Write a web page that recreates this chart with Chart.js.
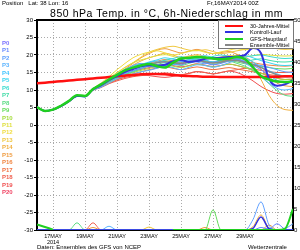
<!DOCTYPE html>
<html>
<head>
<meta charset="utf-8">
<script src="https://cdn.jsdelivr.net/npm/chart.js@4.4.0/dist/chart.umd.min.js"></script>
<style>
  body { margin: 0; background: #fff; }
  #wrap { position: relative; width: 300px; height: 250px; overflow: hidden; font-family: "Liberation Sans", Arial, sans-serif; }
  #wrap canvas { position: absolute; left: 0; top: 0; }
  .txt { position: absolute; white-space: nowrap; color: #000; line-height: 1; }
  #legendBox { position: absolute; left: 218px; top: 20px; width: 74px; height: 27px; background: #fff; border: 1px solid #777; }
  .legRow { position: absolute; left: 0; height: 6px; width: 74px; }
  .legLine { position: absolute; left: 6px; width: 18px; top: 2px; height: 2px; }
  .legText { position: absolute; left: 31px; top: 0; font-size: 5.5px; line-height: 6px; }
</style>
</head>
<body>
<div id="wrap">
  <canvas id="ensChart" width="300" height="250"></canvas>
  <div class="txt" style="left:2px;top:0px;font-size:6px;">Position&nbsp;&nbsp; Lat: 38 Lon: 16</div>
  <div class="txt" style="left:207px;top:0px;font-size:6px;">Fr,16MAY2014 00Z</div>
  <div class="txt" style="left:50px;top:8px;font-size:10.5px;letter-spacing:0.55px;">850 hPa Temp. in °C, 6h-Niederschlag in mm</div>
  <div class="txt" style="left:37px;top:244px;font-size:6px;">Daten: Ensembles des GFS von NCEP</div>
  <div class="txt" style="left:248px;top:244px;font-size:6px;">Wetterzentrale</div>
  <div id="legendBox"></div>
  <div id="sideLabels"></div>
</div>
<script>
// time axis: hours after 16MAY2014 00Z, 12-hourly
const hours = [0, 12, 24, 36, 48, 60, 72, 84, 96, 108, 120, 132, 144, 156, 168, 180, 192,
               204, 216, 228, 240, 252, 264, 276, 288, 300, 312, 324, 336, 348, 360, 372, 384];
const xTickHours = [24, 72, 120, 168, 216, 264, 312, 360];
const xTickLabels = ['17MAY', '19MAY', '21MAY', '23MAY', '25MAY', '27MAY', '29MAY', ''];
const yearLabel = '2014';

// 850 hPa temperature (°C)
const gfsTemp = [5.1, 4.0, 4.4, 5.5, 6.9, 8.5, 8.3, 10.3, 11.6, 13.0, 14.3, 15.6, 16.4, 17.0, 17.4, 16.8, 16.4,
                 17.8, 19.0, 19.2, 19.4, 19.3, 19.0, 18.8, 19.0, 19.4, 18.8, 16.5, 14.0, 13.0, 12.4, 12.3, 12.4];
const controlTemp = [5.1, 4.0, 4.4, 5.4, 6.8, 8.3, 8.2, 10.2, 11.4, 12.8, 14.0, 15.2, 16.0, 16.8, 17.1, 17.0, 17.2,
                     18.2, 18.6, 18.0, 18.3, 18.9, 19.1, 19.2, 19.4, 19.6, 20.0, 22.0, 20.5, 13.2, 11.2, 11.6, 12.8];
const climateTemp = [11.9, 12.1, 12.3, 12.5, 12.7, 12.9, 13.1, 13.3, 13.5, 13.7, 13.9, 14.1, 14.3, 14.5, 14.6, 14.6, 14.5,
                     14.3, 14.1, 14.0, 13.9, 13.8, 13.8, 13.7, 13.7, 13.7, 13.7, 13.7, 13.7, 13.8, 13.8, 13.9, 13.9];
const meanTemp = [5.1, 4.0, 4.4, 5.4, 6.8, 8.3, 8.2, 10.1, 11.3, 12.7, 14.0, 15.1, 16.1, 16.9, 17.4, 17.8, 18.1,
                  17.8, 17.6, 18.0, 18.4, 18.1, 17.7, 18.0, 18.5, 18.4, 17.9, 17.3, 16.4, 15.3, 14.3, 13.8, 13.9];

const p1 = [5.1, 4.0, 4.5, 5.4, 6.7, 8.2, 8.3, 10.0, 11.0, 12.6, 13.8, 14.8, 15.6, 16.2, 16.8, 16.5, 17.0, 17.6, 17.2, 18.0, 18.4, 17.8, 17.2, 17.6, 18.3, 18.8, 18.0, 17.0, 15.8, 14.2, 12.8, 12.0, 12.2];
const p2 = [5.0, 4.1, 4.4, 5.5, 6.9, 8.4, 8.1, 10.3, 11.8, 13.2, 14.5, 15.8, 17.0, 17.6, 17.2, 16.4, 16.8, 17.4, 18.1, 18.6, 18.0, 17.5, 17.9, 18.6, 19.2, 19.0, 18.2, 17.4, 17.0, 16.5, 15.8, 15.2, 15.0];
const p3 = [5.2, 4.0, 4.3, 5.3, 6.7, 8.2, 8.0, 9.9, 10.8, 12.0, 13.2, 14.0, 14.6, 15.2, 15.6, 16.2, 16.8, 16.4, 15.8, 16.5, 17.2, 17.0, 16.5, 17.0, 17.8, 18.4, 17.6, 16.2, 14.0, 12.0, 10.5, 10.0, 10.4];
const p4 = [5.1, 4.0, 4.4, 5.4, 6.8, 8.3, 8.3, 10.4, 11.6, 12.8, 14.2, 15.5, 16.2, 17.1, 17.8, 18.3, 17.9, 17.2, 17.6, 18.4, 18.9, 18.6, 18.0, 18.5, 19.3, 19.6, 19.1, 18.0, 16.6, 15.5, 14.6, 14.0, 14.1];
const p5 = [5.1, 4.1, 4.4, 5.5, 6.8, 8.4, 8.2, 10.2, 11.4, 12.7, 13.9, 15.1, 16.5, 17.3, 18.0, 18.6, 19.2, 18.8, 18.2, 18.7, 19.4, 19.8, 19.2, 18.6, 19.0, 19.5, 19.8, 19.2, 18.4, 17.8, 17.2, 17.0, 17.1];
const p6 = [5.0, 4.0, 4.5, 5.4, 6.9, 8.3, 8.2, 10.1, 11.2, 12.4, 13.6, 14.6, 15.4, 16.3, 17.2, 17.9, 18.5, 19.0, 19.5, 19.1, 18.6, 19.0, 19.6, 20.0, 19.6, 19.0, 19.4, 19.8, 20.0, 19.6, 19.2, 19.0, 19.1];
const p7 = [5.1, 4.0, 4.4, 5.4, 6.8, 8.2, 8.1, 10.2, 11.5, 13.0, 14.6, 15.9, 16.8, 17.4, 17.0, 16.6, 17.3, 18.0, 18.8, 19.3, 19.0, 18.4, 18.0, 18.5, 19.1, 18.7, 18.2, 18.6, 18.9, 18.5, 18.1, 18.0, 18.2];
const p8 = [5.1, 4.0, 4.4, 5.5, 6.9, 8.4, 8.2, 10.1, 11.2, 12.5, 13.5, 14.4, 15.2, 16.0, 16.8, 17.3, 17.8, 17.4, 17.0, 17.6, 18.2, 17.8, 17.3, 17.8, 18.2, 17.6, 16.8, 15.6, 13.8, 11.8, 9.8, 8.5, 8.2];
const p9 = [5.1, 4.1, 4.4, 5.4, 6.8, 8.3, 8.3, 10.3, 11.7, 13.1, 14.3, 15.2, 16.0, 16.7, 17.4, 17.8, 18.3, 18.0, 17.6, 18.1, 18.5, 18.1, 17.7, 18.0, 18.4, 18.0, 17.5, 17.1, 16.8, 16.4, 16.1, 16.0, 16.2];
const p10 = [5.1, 4.0, 4.4, 5.4, 6.8, 8.3, 8.2, 10.0, 11.0, 12.2, 13.3, 14.2, 15.0, 15.6, 16.2, 16.7, 17.1, 16.8, 16.4, 16.9, 17.4, 17.0, 16.6, 17.0, 17.4, 17.0, 16.4, 15.6, 14.8, 14.0, 13.3, 13.0, 13.1];
const p11 = [5.1, 4.0, 4.4, 5.5, 6.9, 8.4, 8.3, 10.3, 11.8, 13.4, 15.0, 16.5, 17.8, 18.6, 19.2, 19.8, 20.1, 19.6, 19.0, 19.4, 19.8, 19.3, 18.9, 19.3, 19.7, 19.9, 19.6, 19.8, 20.2, 20.0, 19.8, 19.7, 19.8];
const p12 = [5.1, 4.0, 4.4, 5.4, 6.8, 8.3, 8.2, 10.4, 12.0, 13.8, 15.8, 17.6, 19.2, 20.2, 20.8, 21.2, 20.6, 20.0, 20.4, 21.0, 21.3, 20.8, 20.4, 20.9, 21.4, 21.8, 21.5, 21.9, 22.4, 22.6, 22.3, 22.0, 22.1];
const p13 = [5.0, 4.0, 4.4, 5.4, 6.8, 8.3, 8.3, 10.3, 11.7, 13.3, 14.9, 16.4, 17.8, 19.4, 20.8, 21.6, 22.2, 22.5, 22.0, 21.4, 21.2, 21.5, 21.0, 20.4, 20.7, 21.2, 21.6, 22.0, 22.4, 22.2, 21.8, 21.6, 21.7];
const p14 = [5.1, 4.0, 4.4, 5.4, 6.8, 8.2, 8.1, 10.1, 11.3, 12.8, 14.2, 15.6, 17.1, 18.3, 19.2, 19.9, 20.5, 20.0, 19.3, 19.7, 20.1, 19.5, 19.0, 19.4, 19.8, 19.2, 18.5, 16.8, 13.0, 8.5, 5.6, 4.4, 4.2];
const p15 = [5.1, 4.0, 4.4, 5.5, 6.8, 8.3, 8.2, 10.2, 11.5, 13.0, 14.5, 16.0, 17.6, 19.2, 20.4, 21.4, 21.8, 21.2, 20.6, 21.1, 21.6, 21.0, 20.4, 20.7, 21.0, 20.2, 19.4, 18.0, 16.0, 13.8, 12.0, 11.2, 11.0];
const p16 = [5.1, 4.0, 4.4, 5.4, 6.8, 8.3, 8.2, 10.1, 11.2, 12.6, 13.8, 15.0, 16.1, 17.0, 17.7, 18.2, 18.7, 18.3, 17.9, 18.3, 18.8, 18.4, 18.0, 18.3, 18.7, 18.5, 18.1, 17.8, 17.4, 17.1, 16.9, 16.8, 17.0];
const p17 = [5.1, 4.0, 4.4, 5.4, 6.8, 8.3, 8.2, 10.0, 10.9, 12.0, 13.0, 13.9, 14.6, 15.2, 15.8, 16.3, 16.6, 16.2, 15.8, 16.2, 16.6, 16.2, 15.8, 16.1, 16.4, 16.0, 15.6, 15.2, 14.8, 14.4, 14.1, 14.0, 14.1];
const p18 = [5.1, 4.0, 4.4, 5.4, 6.8, 8.2, 8.1, 9.9, 10.7, 11.8, 12.6, 13.3, 13.8, 14.1, 14.3, 14.6, 14.9, 14.6, 14.3, 14.7, 15.2, 15.0, 14.6, 15.0, 15.5, 15.8, 16.2, 16.0, 15.6, 15.3, 15.0, 15.0, 15.2];
const p19 = [5.1, 4.0, 4.4, 5.4, 6.8, 8.3, 8.2, 10.0, 10.8, 11.9, 12.9, 13.6, 14.0, 14.3, 14.1, 13.8, 13.6, 13.9, 14.3, 14.8, 15.3, 15.0, 14.6, 15.0, 15.4, 15.0, 14.0, 12.6, 11.0, 9.8, 9.0, 8.8, 9.0];
const p20 = [5.1, 4.0, 4.4, 5.4, 6.8, 8.3, 8.2, 10.1, 11.1, 12.3, 13.4, 14.4, 15.3, 15.9, 16.4, 16.9, 17.3, 17.0, 16.6, 17.0, 17.5, 17.1, 16.7, 17.0, 17.4, 17.0, 16.4, 15.6, 14.8, 14.0, 13.4, 13.0, 13.1];
const members = [p1, p2, p3, p4, p5, p6, p7, p8, p9, p10, p11, p12, p13, p14, p15, p16, p17, p18, p19, p20];

// side labels P0..P20 and member colours
const sideLabels = ['P0', 'P1', 'P2', 'P3', 'P4', 'P5', 'P6', 'P7', 'P8', 'P9', 'P10',
                    'P11', 'P12', 'P13', 'P14', 'P15', 'P16', 'P17', 'P18', 'P19', 'P20'];
const sideColors = ['#7a70ff', '#6688ff', '#60a0ff', '#5cb4ff', '#40c4ff', '#3cd4f0', '#3cdcd0', '#44dca8',
                    '#5cdc84', '#64dc5c', '#a4dc3c', '#e0e040', '#f0dc40', '#f0c840', '#f0b040', '#f09c40',
                    '#f08440', '#f07040', '#f06050', '#f05050', '#f04464'];

// 6h precipitation (mm), right axis
const gfsPrecip = [1.3, 0.7, 0.1, null, null, null, null, null, null, null, null, null, null, null, null, null, null,
                   0, 0, 0, 0, 0, 0, 0, 0, 0, 0, 0, 0, 0, 0, 0.3, 5.0];
const controlPrecip = [0, 0, 0, 0, 0, 0, 0, 0, 0, 0, 0, 0, 0, 0, 0, 0, 0, 0, 0, 0, 0, 0, 0, 0, 0, 0, 0, 0.4, 3.1, 0.3, 0, 0, 0];
const precipP1 = [0, 0, 0, 0, 0, 0, 0, 0, 0, 0, 0, 0, 0, 0, 0, 0, 0, 0, 0, 0, 0, 0, 0, 0, 0, 0, 0, 0, 0.6, 0.2, 1.5, 0.2, 0];
const precipP2 = [0, 0, 0, 0, 0, 0, 0, 0, 0, 0, 0, 0, 0, 0, 0, 0, 0, 0, 0, 0, 0, 0, 0, 0, 0, 0, 0, 2.5, 6.7, 1.2, 0, 0.3, 1.5];
const precipP3 = [0, 0, 0, 0, 0, 0, 0, 0, 0, 0.9, 0, 0, 0, 0, 0, 0, 0, 0, 0, 0, 0, 0, 0, 0, 0, 0, 0, 0, 0, 0, 0, 0, 0];
const precipP8 = [0, 0, 0, 0, 0, 1.7, 0, 0, 0, 0, 0, 0, 0, 0, 0, 0, 0, 0, 0, 0, 0, 0, 0, 0, 0, 0, 0, 0, 0, 0.5, 0, 0, 0];
const precipP9 = [0, 0, 0, 0, 0, 0, 0, 0, 0, 0, 0, 0, 0, 0, 0, 0, 0, 0, 0, 0, 0, 0, 4.8, 0, 0, 0, 0, 0, 0, 0, 0, 0, 0];
const precipP13 = [0, 0, 0, 0, 0, 0, 0, 0, 0, 0, 0, 0, 0, 0, 0.7, 0, 0, 0, 0, 0, 0, 0, 0, 0, 0, 0, 0, 0, 0, 0, 0, 0, 0];
const precipP14 = [0, 0, 0, 0, 0, 0, 0, 0, 0, 0, 0, 0, 0, 0, 0, 0, 0, 0, 0, 0, 0, 0, 0, 0, 0, 0, 0, 0.8, 3.6, 0.4, 0, 0, 0];
const precipP15 = [0, 0, 0, 0, 0, 0, 0, 0.6, 0, 0, 0, 0, 0, 0, 0, 0, 0, 0, 0, 0, 0, 0.6, 0, 0, 0, 0, 0, 0, 0, 1.2, 0, 0, 0];
const precipP18 = [0, 0, 0, 0, 0, 0, 0, 1.7, 0, 0, 0, 0, 0, 0, 0, 0, 0, 0, 0, 0, 0, 0, 0, 0, 0, 0, 0, 0, 0, 0, 0, 0, 0];
const memberPrecip = { 1: precipP1, 2: precipP2, 3: precipP3, 8: precipP8, 9: precipP9, 13: precipP13, 14: precipP14, 15: precipP15, 18: precipP18 };

// legend entries
const legendNames = ['30-Jahres-Mittel', 'Kontroll-Lauf', 'GFS-Hauptlauf', 'Ensemble-Mittel'];
const legendColors = ['#ff1010', '#3030e0', '#20d020', '#888888'];

function pts(arr) {
    return arr.map((v, i) => ({ x: hours[i], y: v }));
}

function line(label, arr, color, width, axis) {
    return {
        label: label,
        data: pts(arr),
        borderColor: color,
        borderWidth: width,
        pointRadius: 0,
        fill: false,
        cubicInterpolationMode: 'monotone',
        yAxisID: axis,
        spanGaps: false
    };
}

function buildOverlay() {
    const side = document.getElementById('sideLabels');
    sideLabels.forEach((name, i) => {
        const d = document.createElement('div');
        d.className = 'txt';
        d.style.left = '2px';
        d.style.top = (40 + i * 7.45) + 'px';
        d.style.fontSize = '6px';
        d.style.fontWeight = 'bold';
        d.style.color = sideColors[i];
        d.textContent = name;
        side.appendChild(d);
    });
    const box = document.getElementById('legendBox');
    legendNames.forEach((name, i) => {
        const row = document.createElement('div');
        row.className = 'legRow';
        row.style.top = (2 + i * 6.4) + 'px';
        row.innerHTML = '<div class="legLine" style="background:' + legendColors[i] + '"></div>' +
                        '<div class="legText">' + name + '</div>';
        box.appendChild(row);
    });
}

// top border of the frame
const framePlugin = {
    id: 'frame',
    afterDraw(chart) {
        const a = chart.chartArea;
        const ctx = chart.ctx;
        ctx.save();
        ctx.strokeStyle = '#000';
        ctx.lineWidth = 2;
        ctx.beginPath();
        ctx.moveTo(a.left - 1, a.top);
        ctx.lineTo(a.right + 1, a.top);
        ctx.stroke();
        ctx.restore();
    }
};

function renderChart() {
    const datasets = [];
    datasets.push(line('GFS-Hauptlauf', gfsTemp, legendColors[2], 2.5, 'y'));
    datasets.push(line('Kontroll-Lauf', controlTemp, legendColors[1], 2, 'y'));
    datasets.push(line('30-Jahres-Mittel', climateTemp, legendColors[0], 2.5, 'y'));
    datasets.push(line('Ensemble-Mittel', meanTemp, legendColors[3], 1.5, 'y'));
    datasets.push(line('GFS Niederschlag', gfsPrecip, legendColors[2], 2, 'y2'));
    datasets.push(line('Kontroll Niederschlag', controlPrecip, legendColors[1], 1.5, 'y2'));
    Object.keys(memberPrecip).forEach(k => {
        datasets.push(line('P' + k + ' Niederschlag', memberPrecip[k], sideColors[k], 1, 'y2'));
    });
    members.forEach((arr, i) => {
        datasets.push(line('P' + (i + 1), arr, sideColors[i + 1], 1, 'y'));
    });

    const tickFont = { family: 'Liberation Sans', size: 6 };
    new Chart(document.getElementById('ensChart'), {
        type: 'line',
        data: { datasets: datasets },
        plugins: [framePlugin],
        options: {
            responsive: false,
            animation: false,
            layout: { padding: { top: 20, left: 0, right: 0, bottom: 0 } },
            plugins: { legend: { display: false }, tooltip: { enabled: false } },
            scales: {
                x: {
                    type: 'linear',
                    min: 0,
                    max: 384,
                    afterBuildTicks: axis => { axis.ticks = xTickHours.map(v => ({ value: v })); },
                    afterFit: axis => { axis.height = 20; },
                    grid: { color: '#aaaaaa', tickLength: 0, lineWidth: 1 },
                    border: { display: true, color: '#000', width: 2, dash: [1, 2] },
                    ticks: {
                        font: { family: 'Liberation Sans', size: 5.5 },
                        color: '#000',
                        padding: 3,
                        maxRotation: 0,
                        autoSkip: false,
                        callback: value => {
                            const i = xTickHours.indexOf(value);
                            if (i === 0) return [xTickLabels[0], yearLabel];
                            return i >= 0 ? xTickLabels[i] : '';
                        }
                    }
                },
                y: {
                    type: 'linear',
                    position: 'left',
                    min: -30,
                    max: 30,
                    afterFit: axis => { axis.width = 37; },
                    grid: { color: '#aaaaaa', tickColor: '#000', tickLength: 3, lineWidth: 1 },
                    border: { display: true, color: '#000', width: 2, dash: [1, 2] },
                    ticks: { stepSize: 5, font: tickFont, color: '#000', padding: 1 }
                },
                y2: {
                    type: 'linear',
                    position: 'right',
                    min: 0,
                    max: 50,
                    afterFit: axis => { axis.width = 7; },
                    grid: { drawOnChartArea: false, tickColor: '#000', tickLength: 1 },
                    border: { display: true, color: '#000', width: 2 },
                    ticks: { stepSize: 5, font: tickFont, color: '#000', padding: 0 }
                }
            }
        }
    });
}

document.addEventListener('DOMContentLoaded', function() {
    buildOverlay();
    renderChart();
});
</script>
</body>
</html>
